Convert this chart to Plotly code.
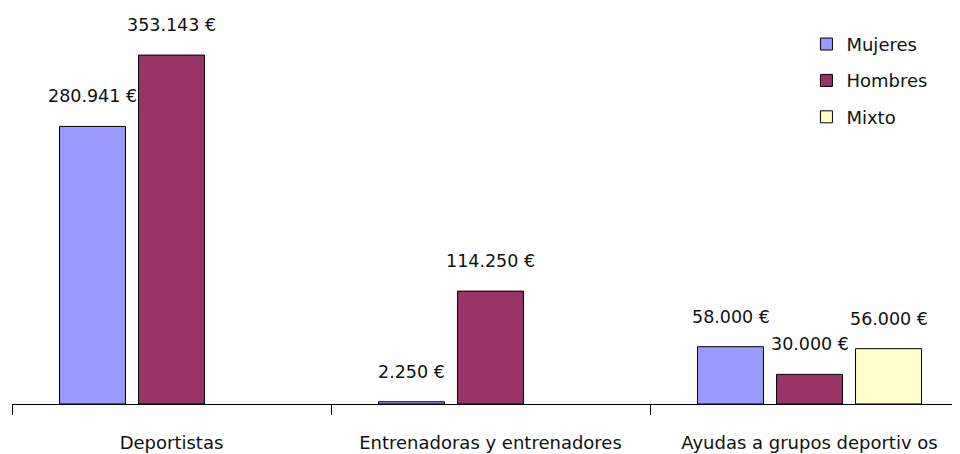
import plotly.graph_objects as go

categories = ['Deportistas', 'Entrenadoras y entrenadores', 'Ayudas a grupos deportiv os']
series_names = ['Mujeres', 'Hombres', 'Mixto']
mujeres = [280941, 2250, 58000]
hombres = [353143, 114250, 30000]
mixto = [None, None, 56000]
colors = ['#9999FF', '#993366', '#FFFFCC']

FONT = 'DejaVu Sans'
values = [mujeres, hombres, mixto]


def fmt(v):
    return '{:,}'.format(v).replace(',', '.') + ' €'


fig = go.Figure()
for i, (name, vals) in enumerate(zip(series_names, values)):
    fig.add_trace(go.Bar(
        x=categories, y=vals, name=name,
        marker=dict(color=colors[i], line=dict(color='black', width=1)),
        legendgroup=name,
    ))

# value labels, ~30px above each bar
slot_px = 79
for i, vals in enumerate(values):
    for cat, v in zip(categories, vals):
        if v is None:
            continue
        fig.add_annotation(x=cat, y=v, text=fmt(v), showarrow=False,
                           xshift=(i - 1) * slot_px, yshift=30, yanchor='middle',
                           font=dict(family=FONT, size=17.5, color='#111'))

# page body has an 8px margin, so margins are trimmed to compensate
fig.update_layout(
    width=960, height=454,
    margin=dict(l=4, r=0, t=0, b=58),
    paper_bgcolor='white', plot_bgcolor='white',
    barmode='group', bargap=0.257, bargroupgap=0.165,
    font=dict(family=FONT, size=18, color='#111'),
    legend=dict(x=0.831, y=0.955, xanchor='left', yanchor='top',
                traceorder='grouped', tracegroupgap=10,
                font=dict(family=FONT, size=18, color='#111')),
    showlegend=True,
)
fig.update_xaxes(range=[-0.5, 2.5 - 1 / 319], showline=True, linecolor='black', linewidth=1,
                 ticks='outside', tickson='boundaries', ticklen=10, tickcolor='black',
                 ticklabelstandoff=22, showgrid=False, zeroline=False)
fig.update_yaxes(range=[0, 400800], visible=False)

fig.write_html('out.html')
